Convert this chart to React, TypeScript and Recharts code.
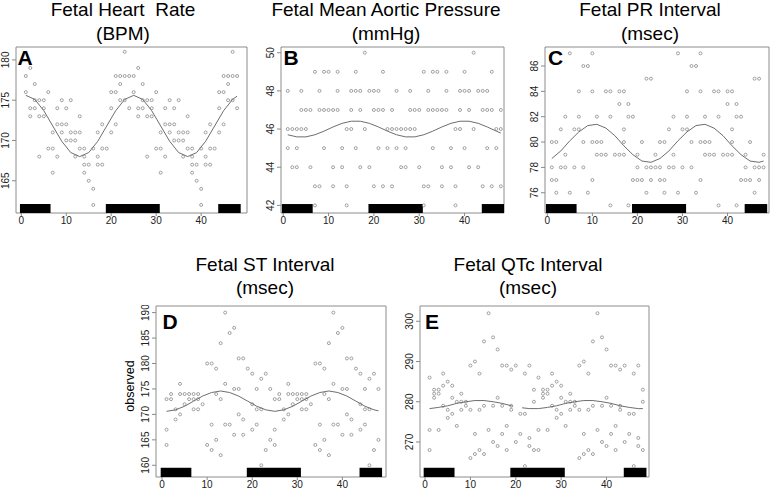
import { ScatterChart, Scatter, XAxis, YAxis, ReferenceArea } from 'recharts'

const FONT = '"Liberation Sans", Arial, sans-serif'

// readings per hour of the first day (hour 1..24); the figure plots the same day again at 25..48
const hrObs: number[][] = [
  [178, 176], [179, 174, 173], [177, 175, 174], [175, 173, 168], [175, 174, 173], [176, 169],
  [171, 169, 166], [174, 172, 168], [175, 172, 171], [174, 172, 170], [175, 171, 170], [171, 170, 168],
  [173, 171, 169], [169, 168, 167, 166], [167, 165], [169, 164, 162], [171, 168, 167], [172, 169, 167],
  [169], [176, 174, 171], [178, 176, 172], [178, 177, 175], [181, 178, 175], [178, 174],
]
const mapObs: number[][] = [
  [48, 46, 45], [46, 44], [46, 45, 44], [48, 47, 46], [47, 46], [47, 44],
  [49, 43, 42], [48, 47, 43], [49, 47, 45], [49, 47], [47, 44, 43], [49, 48, 47],
  [45, 44], [46, 43, 42], [48, 47, 46], [49, 48, 45], [48, 47, 44], [50, 46],
  [48, 44], [48, 47, 43], [48, 47, 45], [49, 47, 43], [46, 45], [47, 46, 43],
]
const prObs: number[][] = [
  [80, 78, 77], [80, 77, 76], [81, 78], [82, 79, 78], [87, 76], [81, 78],
  [84, 82, 81], [86, 80, 78], [86, 76], [87, 84, 80, 77], [82, 80, 79], [80, 79],
  [84, 79], [84, 82, 75], [79], [84, 83, 79], [84, 81, 80, 79], [83, 82, 75],
  [82, 77], [79, 78, 77], [80, 77], [85, 78, 76], [85, 78, 77], [79, 78],
]
const stObs: number[][] = [
  [173, 167, 164], [174, 173], [171, 169], [176, 174, 170], [174, 172], [174, 173],
  [174, 173, 171], [174, 173, 171], [172], [180, 164], [180, 168, 163], [179, 174, 165],
  [184, 173, 162], [190, 176, 168], [186, 168], [187, 175, 166], [181, 175, 170], [181, 169, 166],
  [179], [178, 172, 167], [175, 171, 168], [177, 171, 160], [178, 163], [175, 165],
]
const qtcObs: number[][] = [
  [286, 273, 268], [283, 282, 281], [283, 282, 273], [287, 284, 279], [285, 278, 276], [284, 281, 277],
  [280, 274], [282, 280, 278], [280, 279], [289, 278, 266], [290, 272, 267], [287, 278, 268],
  [295, 279, 267], [302, 273], [296, 279, 270], [293, 281, 269], [289, 279, 272], [289, 274, 268],
  [288, 279, 278], [289, 270], [272, 277], [287, 277, 264], [289, 271, 269], [283, 280, 268],
]

// fitted curves
const FIT_X = [1, 3, 5, 7, 9, 11, 13, 15, 17, 19, 21, 23, 25, 27, 29, 31, 33, 35, 37, 39, 41, 43, 45, 47, 48]
const hrFit = [175.6, 175.1, 173.7, 171.8, 169.9, 168.5, 168.0, 168.5, 169.9, 171.8, 173.7, 175.1,
  175.6, 175.1, 173.7, 171.8, 169.9, 168.5, 168.0, 168.5, 169.9, 171.8, 173.7, 175.1, 175.5]
const mapFit = [45.70, 45.59, 45.59, 45.70, 45.89, 46.11, 46.30, 46.41, 46.41, 46.30, 46.11, 45.89,
  45.70, 45.59, 45.59, 45.70, 45.89, 46.11, 46.30, 46.41, 46.41, 46.30, 46.11, 45.89, 45.79]
const prFit = [78.7, 79.3, 80.1, 80.8, 81.3, 81.4, 81.1, 80.5, 79.7, 79.0, 78.5, 78.4,
  78.7, 79.3, 80.1, 80.8, 81.3, 81.4, 81.1, 80.5, 79.7, 79.0, 78.5, 78.4, 78.5]
const stFit = [170.6, 170.9, 171.6, 172.6, 173.6, 174.3, 174.6, 174.3, 173.6, 172.6, 171.6, 170.9,
  170.6, 170.9, 171.6, 172.6, 173.6, 174.3, 174.6, 174.3, 173.6, 172.6, 171.6, 170.9, 170.7]
// QTc curve has a break between ~19 and ~21
const qtcFitX1 = [1, 3, 5, 7, 9, 11, 13, 15, 17, 19, 19.3]
const qtcFit1 = [278.3, 278.6, 279.0, 279.6, 280.0, 280.3, 280.3, 280.0, 279.6, 279.0, 278.9]
const qtcFitX2 = [21.4, 23, 25, 27, 29, 31, 33, 35, 37, 39, 41, 43, 45, 47, 48]
const qtcFit2 = [278.5, 278.3, 278.3, 278.6, 279.0, 279.6, 280.0, 280.3, 280.3, 280.0, 279.6, 279.0, 278.6, 278.3, 278.3]

// dark periods (black bars)
const DARK_FROM = [-0.3, 18.8, 43.8]
const DARK_TO = [6.5, 30.8, 48.8]

const X_TICKS = [0, 10, 20, 30, 40]

type Pt = { x: number; y: number }

function doublePlot(byHour: number[][]): Pt[] {
  const out: Pt[] = []
  for (const day of [0, 24]) {
    byHour.forEach((vals, i) => vals.forEach(v => out.push({ x: i + 1 + day, y: v })))
  }
  return out
}

function zipPts(xs: number[], ys: number[]): Pt[] {
  return xs.map((x, i) => ({ x, y: ys[i] }))
}

function Dot(props: any) {
  const { cx, cy } = props
  if (cx == null || cy == null) return <g />
  return <circle cx={cx} cy={cy} r={1.5} fill="none" stroke="#8a8a8a" strokeWidth={0.8} />
}

function NoDot() {
  return <g />
}

function RotTick(props: any) {
  const { x, y, payload } = props
  const tx = x - 2
  return (
    <text x={tx} y={y} transform={`rotate(-90 ${tx} ${y})`} textAnchor="middle"
      fontSize={10} fill="#222" fontFamily={FONT}>
      {payload.value}
    </text>
  )
}

const YW = 24
const XH = 20

function Panel({ box, xDomain, yDomain, yTicks, obs, fits }: {
  box: { l: number; t: number; w: number; h: number }
  xDomain: [number, number]
  yDomain: [number, number]
  yTicks: number[]
  obs: number[][]
  fits: Pt[][]
}) {
  const points = doublePlot(obs)
  const barTop = yDomain[0] + (yDomain[1] - yDomain[0]) * 0.054
  return (
    <div style={{ position: 'absolute', left: box.l - YW, top: box.t - 1 }}>
      <ScatterChart width={box.w + YW + 2} height={box.h + 1 + XH}
        margin={{ top: 1, right: 1, bottom: 0, left: 0 }}>
        <XAxis type="number" dataKey="x" domain={xDomain} ticks={X_TICKS} allowDataOverflow
          height={XH} axisLine={false} tickSize={3} tickMargin={1} interval={0}
          tickLine={{ stroke: '#888' }} tick={{ fontSize: 10, fill: '#222', fontFamily: FONT }} />
        <YAxis type="number" dataKey="y" domain={yDomain} ticks={yTicks} allowDataOverflow
          width={YW} axisLine={false} tickSize={4} tickMargin={1} interval={0}
          tickLine={{ stroke: '#888' }} tick={(p: any) => <RotTick {...p} />} />
        <ReferenceArea x1={xDomain[0]} x2={xDomain[1]} y1={yDomain[0]} y2={yDomain[1]}
          fill="none" stroke="#8c8c8c" strokeWidth={1} ifOverflow="visible" />
        {DARK_FROM.map((f, i) => (
          <ReferenceArea key={i} x1={Math.max(f, xDomain[0])} x2={Math.min(DARK_TO[i], xDomain[1])}
            y1={yDomain[0]} y2={barTop} fill="#000" fillOpacity={1} stroke="none" ifOverflow="visible" />
        ))}
        <Scatter data={points} isAnimationActive={false} shape={Dot} />
        {fits.map((f, i) => (
          <Scatter key={'fit' + i} data={f} isAnimationActive={false} shape={NoDot}
            line={{ stroke: '#6e6e6e', strokeWidth: 1 }} lineType="joint" />
        ))}
      </ScatterChart>
    </div>
  )
}

const TITLES = [
  { x: 123, row: 0, l1: 'Fetal Heart  Rate', l2: '(BPM)' },
  { x: 386, row: 0, l1: 'Fetal Mean Aortic Pressure', l2: '(mmHg)' },
  { x: 650, row: 0, l1: 'Fetal PR Interval', l2: '(msec)' },
  { x: 265, row: 1, l1: 'Fetal ST Interval', l2: '(msec)' },
  { x: 528, row: 1, l1: 'Fetal QTc Interval', l2: '(msec)' },
]

const LETTERS = [
  { t: 'A', x: 17.5, y: 65 },
  { t: 'B', x: 283.5, y: 65 },
  { t: 'C', x: 548, y: 65 },
  { t: 'D', x: 162.5, y: 328.5 },
  { t: 'E', x: 425, y: 328.5 },
]

export default function App() {
  return (
    <div style={{ position: 'absolute', left: 0, top: 0, width: 772, height: 489, background: '#fff', fontFamily: FONT }}>
      <Panel box={{ l: 16, t: 47, w: 230, h: 166 }} xDomain={[-1.18, 50.2]} yDomain={[161.0, 181.6]}
        yTicks={[165, 170, 175, 180]} obs={hrObs} fits={[zipPts(FIT_X, hrFit)]} />
      <Panel box={{ l: 281, t: 47, w: 222, h: 166 }} xDomain={[-0.49, 48.7]} yDomain={[41.6, 50.3]}
        yTicks={[42, 44, 46, 48, 50]} obs={mapObs} fits={[zipPts(FIT_X, mapFit)]} />
      <Panel box={{ l: 545, t: 47, w: 223, h: 166 }} xDomain={[-0.51, 49.2]} yDomain={[74.4, 87.5]}
        yTicks={[76, 78, 80, 82, 84, 86]} obs={prObs} fits={[zipPts(FIT_X, prFit)]} />
      <Panel box={{ l: 156, t: 306, w: 229, h: 171 }} xDomain={[-1.34, 49.67]} yDomain={[157.7, 191.3]}
        yTicks={[160, 165, 170, 175, 180, 185, 190]} obs={stObs} fits={[zipPts(FIT_X, stFit)]} />
      <Panel box={{ l: 420, t: 306, w: 228, h: 171 }} xDomain={[-1.11, 49.36]} yDomain={[261.3, 303.8]}
        yTicks={[270, 280, 290, 300]} obs={qtcObs}
        fits={[zipPts(qtcFitX1, qtcFit1), zipPts(qtcFitX2, qtcFit2)]} />

      <svg width={772} height={489} style={{ position: 'absolute', left: 0, top: 0, pointerEvents: 'none' }}>
        {TITLES.map((t, i) => {
          const b = t.row === 0 ? 16 : 270.5
          return (
            <g key={i} fontFamily={FONT} fontSize={19} fill="#000" textAnchor="middle">
              <text x={t.x} y={b} style={{ whiteSpace: 'pre' }}>{t.l1}</text>
              <text x={t.x} y={b + 23.5}>{t.l2}</text>
            </g>
          )
        })}
        {LETTERS.map(l => (
          <text key={l.t} x={l.x} y={l.y} fontFamily={FONT} fontSize={21} fontWeight="bold" fill="#000">{l.t}</text>
        ))}
        <text x={134} y={386} transform="rotate(-90 134 386)" textAnchor="middle"
          fontFamily={FONT} fontSize={12.5} fill="#000">observed</text>
      </svg>
    </div>
  )
}
